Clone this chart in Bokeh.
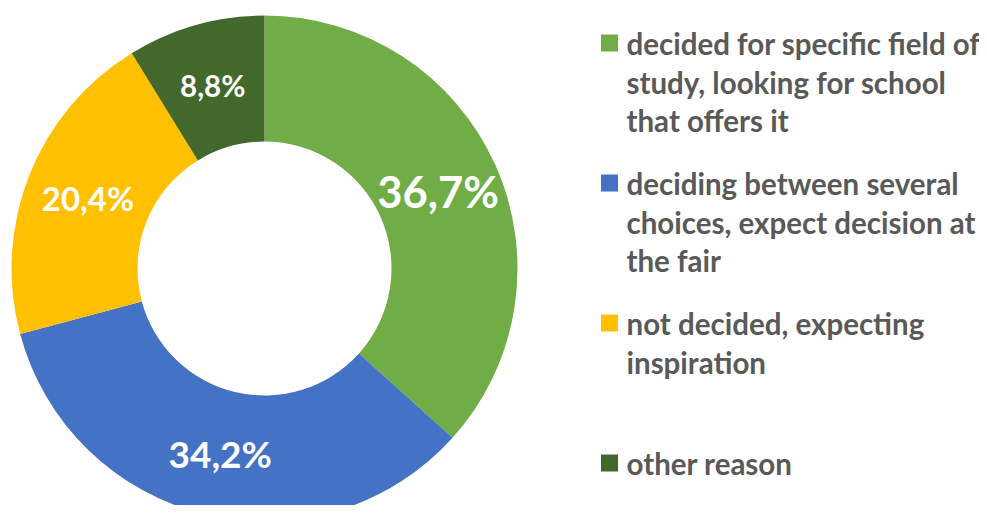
import numpy as np
from bokeh.plotting import figure
from bokeh.models import Range1d, ColumnDataSource
from bokeh.core.properties import value
from bokeh.embed import file_html
from bokeh.resources import INLINE

# ---- data ----
categories = [
    "decided for specific field of study, looking for school that offers it",
    "deciding between several choices, expect decision at the fair",
    "not decided, expecting inspiration",
    "other reason",
]
shares = [36.7, 34.2, 20.4, 8.8]
value_labels = ["36,7%", "34,2%", "20,4%", "8,8%"]
legend_lines = [
    ["decided for specific field of", "study, looking for school", "that offers it"],
    ["deciding between several", "choices, expect decision at", "the fair"],
    ["not decided, expecting", "inspiration"],
    ["other reason"],
]

# ---- styles ----
colors = ["#70AD47", "#4472C4", "#FFC000", "#43682B"]
label_sizes = ["43.5px", "37px", "33px", "29.5px"]
text_gray = "#595959"
FONT = value("Lato")

W, H = 979, 505
p = figure(width=W, height=H, output_backend="svg", toolbar_location=None,
           x_range=Range1d(0, W), y_range=Range1d(0, H), min_border=0,
           background_fill_color="white", border_fill_color="white")
p.axis.visible = False
p.grid.visible = False
p.outline_line_color = None

cx, cy = 264, 237
r_out, r_in = 253, 127

vals = np.array(shares, dtype=float)
frac = vals / vals.sum()
cum_end = np.cumsum(frac)
cum_start = cum_end - frac
start_angle = np.pi / 2 - cum_end * 2 * np.pi
end_angle = np.pi / 2 - cum_start * 2 * np.pi
mid = (start_angle + end_angle) / 2
r_mid = (r_out + r_in) / 2

src = ColumnDataSource(dict(
    x=[cx] * len(vals), y=[cy] * len(vals),
    start=start_angle, end=end_angle, color=colors,
    lx=cx + r_mid * np.cos(mid), ly=cy + r_mid * np.sin(mid),
    lab=value_labels, size=label_sizes,
))
p.annular_wedge(x="x", y="y", inner_radius=r_in, outer_radius=r_out,
                start_angle="start", end_angle="end", fill_color="color",
                line_color=None, source=src)
p.text(x="lx", y="ly", text="lab", text_font_size="size", text_font=FONT,
       text_font_style="bold", text_color="white", text_align="center",
       text_baseline="middle", source=src)

# ---- legend ----
sq_x, sq_y0, slot = 609, 462.5, 140
tx, base0, lh = 626, 462, 38.5
for i, lines in enumerate(legend_lines):
    p.rect(x=[sq_x], y=[sq_y0 - slot * i], width=17, height=17,
           fill_color=colors[i], line_color=None)
    ys = [base0 - slot * i - lh * j for j in range(len(lines))]
    p.text(x=[tx] * len(lines), y=ys, text=lines, text_font=FONT,
           text_font_style="bold", text_font_size="29.5px", text_color=text_gray,
           text_align="left", text_baseline="alphabetic")

open("out.html", "w").write(file_html(p, INLINE))
